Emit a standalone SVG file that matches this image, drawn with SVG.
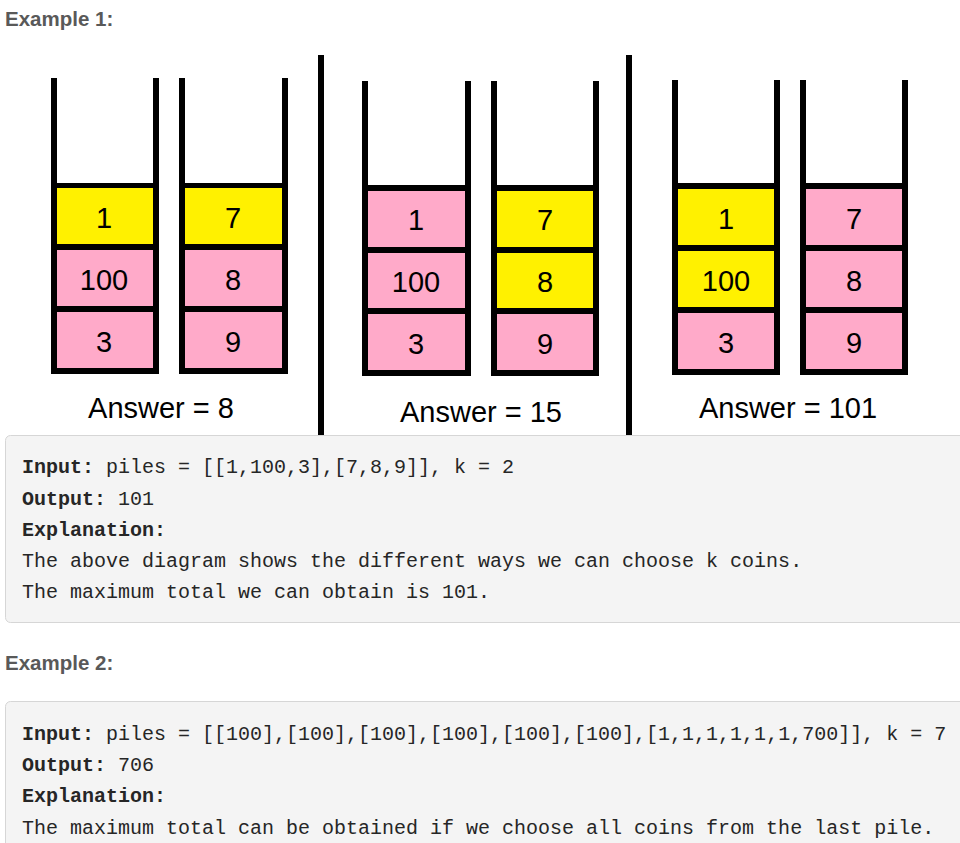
<svg xmlns="http://www.w3.org/2000/svg" width="960" height="843" viewBox="0 0 960 843">
<style>
.h{font-family:"Liberation Sans",Arial,sans-serif;font-weight:bold;font-size:20.5px;fill:#595959}
.w{fill:#000}
.y{fill:#fff100}
.p{fill:#ffaac9}
.n{font-family:"Liberation Sans",Arial,sans-serif;font-size:29px;fill:#000;text-anchor:middle}
.a{font-family:"Liberation Sans",Arial,sans-serif;font-size:29px;fill:#000;text-anchor:middle}
.box{fill:#f4f4f4;stroke:#d6d6d6;stroke-width:1}
.c{font-family:"Liberation Mono","Courier New",monospace;font-size:20px;fill:#262626}
.b{font-weight:bold}
</style>
<rect width="960" height="843" fill="#fff"/>
<text class="h" x="5" y="26">Example 1:</text>

<!-- dividers -->
<rect class="w" x="318" y="55" width="6" height="380"/>
<rect class="w" x="626" y="55" width="6" height="380"/>

<!-- Panel 1 -->
<g id="panel1-pileA">
  <rect class="y" x="57" y="188" width="96" height="56"/>
  <rect class="p" x="57" y="250" width="96" height="56"/>
  <rect class="p" x="57" y="312" width="96" height="56"/>
  <rect class="w" x="51" y="78" width="6" height="296"/>
  <rect class="w" x="153" y="78" width="6" height="296"/>
  <rect class="w" x="51" y="183" width="108" height="5"/>
  <rect class="w" x="51" y="244" width="108" height="6"/>
  <rect class="w" x="51" y="306" width="108" height="6"/>
  <rect class="w" x="51" y="368" width="108" height="6"/>
  <text class="n" x="104" y="228">1</text>
  <text class="n" x="104" y="290">100</text>
  <text class="n" x="104" y="352">3</text>
</g>
<g id="panel1-pileB">
  <rect class="y" x="185" y="188" width="97" height="56"/>
  <rect class="p" x="185" y="250" width="97" height="56"/>
  <rect class="p" x="185" y="312" width="97" height="56"/>
  <rect class="w" x="179" y="78" width="6" height="296"/>
  <rect class="w" x="282" y="78" width="6" height="296"/>
  <rect class="w" x="179" y="183" width="109" height="5"/>
  <rect class="w" x="179" y="244" width="109" height="6"/>
  <rect class="w" x="179" y="306" width="109" height="6"/>
  <rect class="w" x="179" y="368" width="109" height="6"/>
  <text class="n" x="233" y="228">7</text>
  <text class="n" x="233" y="290">8</text>
  <text class="n" x="233" y="352">9</text>
</g>
<text id="answer1" class="a" x="161" y="418">Answer = 8</text>

<!-- Panel 2 -->
<g id="panel2-pileA">
  <rect class="p" x="368" y="191" width="97" height="56"/>
  <rect class="p" x="368" y="253" width="97" height="55"/>
  <rect class="p" x="368" y="314" width="97" height="56"/>
  <rect class="w" x="362" y="81" width="6" height="295"/>
  <rect class="w" x="465" y="81" width="6" height="295"/>
  <rect class="w" x="362" y="185" width="109" height="6"/>
  <rect class="w" x="362" y="247" width="109" height="6"/>
  <rect class="w" x="362" y="308" width="109" height="6"/>
  <rect class="w" x="362" y="370" width="109" height="6"/>
  <text class="n" x="416" y="230">1</text>
  <text class="n" x="416" y="292">100</text>
  <text class="n" x="416" y="354">3</text>
</g>
<g id="panel2-pileB">
  <rect class="y" x="497" y="191" width="96" height="56"/>
  <rect class="y" x="497" y="253" width="96" height="55"/>
  <rect class="p" x="497" y="314" width="96" height="56"/>
  <rect class="w" x="491" y="81" width="6" height="295"/>
  <rect class="w" x="593" y="81" width="6" height="295"/>
  <rect class="w" x="491" y="185" width="108" height="6"/>
  <rect class="w" x="491" y="247" width="108" height="6"/>
  <rect class="w" x="491" y="308" width="108" height="6"/>
  <rect class="w" x="491" y="370" width="108" height="6"/>
  <text class="n" x="545" y="230">7</text>
  <text class="n" x="545" y="292">8</text>
  <text class="n" x="545" y="354">9</text>
</g>
<text id="answer2" class="a" x="481" y="422">Answer = 15</text>

<!-- Panel 3 -->
<g id="panel3-pileA">
  <rect class="y" x="678" y="189" width="96" height="56"/>
  <rect class="y" x="678" y="251" width="96" height="56"/>
  <rect class="p" x="678" y="313" width="96" height="56"/>
  <rect class="w" x="672" y="80" width="6" height="295"/>
  <rect class="w" x="774" y="80" width="6" height="295"/>
  <rect class="w" x="672" y="183" width="108" height="6"/>
  <rect class="w" x="672" y="245" width="108" height="6"/>
  <rect class="w" x="672" y="307" width="108" height="6"/>
  <rect class="w" x="672" y="369" width="108" height="6"/>
  <text class="n" x="726" y="229">1</text>
  <text class="n" x="726" y="291">100</text>
  <text class="n" x="726" y="353">3</text>
</g>
<g id="panel3-pileB">
  <rect class="p" x="806" y="189" width="96" height="56"/>
  <rect class="p" x="806" y="251" width="96" height="56"/>
  <rect class="p" x="806" y="313" width="96" height="56"/>
  <rect class="w" x="800" y="80" width="6" height="295"/>
  <rect class="w" x="902" y="80" width="6" height="295"/>
  <rect class="w" x="800" y="183" width="108" height="6"/>
  <rect class="w" x="800" y="245" width="108" height="6"/>
  <rect class="w" x="800" y="307" width="108" height="6"/>
  <rect class="w" x="800" y="369" width="108" height="6"/>
  <text class="n" x="854" y="229">7</text>
  <text class="n" x="854" y="291">8</text>
  <text class="n" x="854" y="353">9</text>
</g>
<text id="answer3" class="a" x="788" y="418">Answer = 101</text>

<!-- Example 1 code box -->
<g id="example1-box">
  <rect class="box" x="5.5" y="435.5" width="970" height="187" rx="5"/>
  <text class="c" x="22" y="473"><tspan class="b">Input:</tspan> piles = [[1,100,3],[7,8,9]], k = 2</text>
  <text class="c" x="22" y="505"><tspan class="b">Output:</tspan> 101</text>
  <text class="c b" x="22" y="536">Explanation:</text>
  <text class="c" x="22" y="567">The above diagram shows the different ways we can choose k coins.</text>
  <text class="c" x="22" y="598">The maximum total we can obtain is 101.</text>
</g>

<text class="h" x="5" y="670">Example 2:</text>

<g id="example2-box">
  <rect class="box" x="5.5" y="701.5" width="970" height="200" rx="5"/>
  <text class="c" x="22" y="740"><tspan class="b">Input:</tspan> piles = [[100],[100],[100],[100],[100],[100],[1,1,1,1,1,1,700]], k = 7</text>
  <text class="c" x="22" y="771"><tspan class="b">Output:</tspan> 706</text>
  <text class="c b" x="22" y="802">Explanation:</text>
  <text class="c" x="22" y="834">The maximum total can be obtained if we choose all coins from the last pile.</text>
</g>
</svg>
